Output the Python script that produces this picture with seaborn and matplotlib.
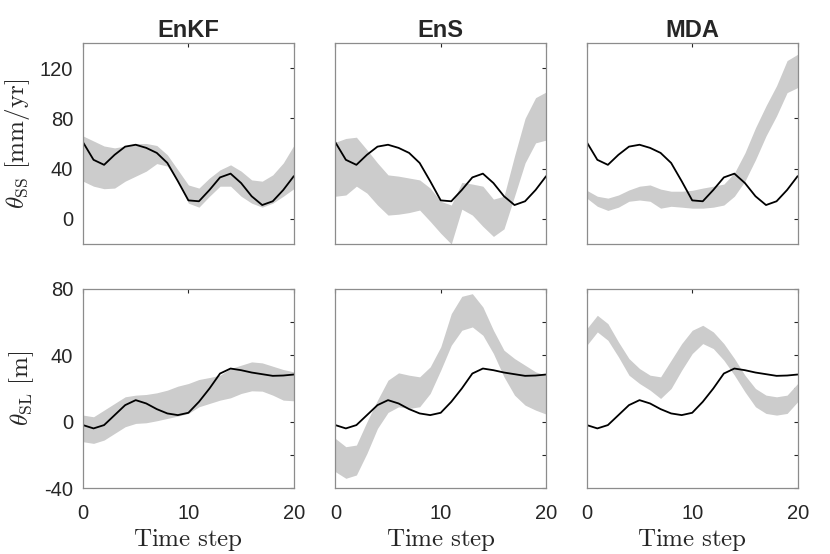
import matplotlib
matplotlib.use("Agg")
import matplotlib.pyplot as plt
import numpy as np
import pandas as pd
import seaborn as sns

time_steps = list(range(21))
methods = ["EnKF", "EnS", "MDA"]

# reference (true) parameter trajectories
truth_ss = [61, 47, 43, 51, 57.5, 59, 56.5, 52.5, 44.5, 30, 14.7, 14, 23, 33, 36,
            28.5, 18, 11, 14, 23, 34]
truth_sl = [-2, -4, -2, 4, 10, 13, 11, 7.6, 5, 4, 5.4, 12, 20, 29, 32, 31, 29.6,
            28.6, 27.6, 27.8, 28.4]

# ensemble bands, theta_SS
enkf_ss_hi = [66, 62, 58, 56.5, 58, 60, 60, 58.4, 51, 39, 27, 24.5, 32.5, 39, 43,
              38, 31, 30, 35, 44.5, 58.4]
enkf_ss_lo = [30, 26, 24, 24.5, 30, 34, 38, 44, 42, 30, 12.5, 9.3, 18, 26, 26, 18,
              12.5, 9.3, 12.5, 18, 24]
ens_ss_hi = [61, 64, 65, 55, 44.5, 35, 34, 32.5, 31, 24.5, 14, 11, 29, 27.7, 26,
             15.7, 18, 50, 80, 96.5, 101]
ens_ss_lo = [18, 19, 26, 20.5, 11, 3, 3.7, 5, 7, -2, -11.5, -20, 7.7, 3, -6, -14,
             -8, 18, 44.5, 60.5, 62.7]
mda_ss_hi = [22.7, 18, 16.5, 19, 23, 26, 27, 23.7, 22, 22, 22.7, 24.5, 26, 27.7,
             36.5, 52.5, 72.5, 90, 106, 126, 131]
mda_ss_lo = [16.5, 10, 6.7, 9.3, 14, 15, 14, 8.5, 10, 9.3, 8.5, 8.5, 9.3, 11, 18,
             30, 47, 66, 82, 100.5, 104.5]

# ensemble bands, theta_SL
enkf_sl_hi = [4, 3, 7, 11, 15, 16, 16.4, 17.4, 19, 21.4, 23, 25.4, 26.6, 28, 32,
              34, 36, 35.4, 33.4, 31.4, 30]
enkf_sl_lo = [-12, -13, -11, -7, -3, -1, -0.6, 0.6, 2, 3.4, 5, 9, 11, 13, 14.4, 17,
              18.6, 18.4, 16, 13, 12.6]
ens_sl_hi = [-10, -15, -14, 0, 13, 25, 29.4, 28, 27, 33, 45, 65, 75.4, 77, 69, 55,
             43, 38, 34, 30, 28]
ens_sl_lo = [-30, -34, -32, -19, -4, 5.6, 9, 8, 9, 17, 31, 46, 55, 57, 52, 41, 27,
             16, 10, 7, 4.6]
mda_sl_hi = [56, 64, 59, 48, 38, 32, 28, 27, 37, 47, 55, 58, 54, 47, 38, 28, 20, 16,
             15, 16, 23]
mda_sl_lo = [46, 54, 49, 39, 28, 23, 19, 14, 20, 31, 41, 47, 44, 37, 28, 18, 9, 5, 4,
             5, 12]

bands = {
    ("SS", "EnKF"): (enkf_ss_lo, enkf_ss_hi),
    ("SS", "EnS"): (ens_ss_lo, ens_ss_hi),
    ("SS", "MDA"): (mda_ss_lo, mda_ss_hi),
    ("SL", "EnKF"): (enkf_sl_lo, enkf_sl_hi),
    ("SL", "EnS"): (ens_sl_lo, ens_sl_hi),
    ("SL", "MDA"): (mda_sl_lo, mda_sl_hi),
}
truths = {"SS": truth_ss, "SL": truth_sl}

sns.set_style("white")
plt.rcParams["font.family"] = ["Liberation Sans", "DejaVu Sans"]
plt.rcParams["mathtext.fontset"] = "cm"

fig = plt.figure(figsize=(8.3, 5.54), dpi=100)
lefts = [0.100, 0.404, 0.707]
rows = {"SS": (0.5596, 0.3628), "SL": (0.1186, 0.3603)}
ylims = {"SS": (-20, 140), "SL": (-40, 80)}
ylabels = {"SS": r"$\theta_{\mathrm{SS}}\ [\mathrm{mm/yr}]$",
           "SL": r"$\theta_{\mathrm{SL}}\ [\mathrm{m}]$"}
spine_col = "#8c8c8c"

for param in ["SS", "SL"]:
    bottom, height = rows[param]
    for j, method in enumerate(methods):
        ax = fig.add_axes([lefts[j], bottom, 0.254, height])
        lo, hi = bands[(param, method)]
        ax.fill_between(time_steps, lo, hi, color="#cccccc", linewidth=0)
        frame = pd.DataFrame({"t": time_steps, "value": truths[param]})
        sns.lineplot(data=frame, x="t", y="value", ax=ax, color="black",
                     linewidth=1.3)
        ax.set_xlim(0, 20)
        ax.set_ylim(*ylims[param])
        ax.set_xticks([0, 10, 20])
        if param == "SS":
            ax.set_yticks([0, 40, 80, 120])
            ax.set_yticklabels(["0", "40", "80", "120"])
        else:
            ax.set_yticks([-40, -20, 0, 20, 40, 60, 80])
            ax.set_yticklabels(["-40", "", "0", "", "40", "", "80"])
        ax.tick_params(direction="in", length=3, width=0.8, color="#262626",
                       top=True, right=True, labelsize=14.5, labelcolor="#262626")
        ax.tick_params(axis="y", pad=7)
        ax.tick_params(axis="x", pad=11)
        for s in ax.spines.values():
            s.set_color(spine_col)
            s.set_linewidth(0.9)
        ax.set_xlabel("")
        ax.set_ylabel("")
        if j == 0:
            ax.set_ylabel(ylabels[param], fontsize=18, labelpad=6)
        else:
            ax.set_yticklabels([])
        if param == "SS":
            ax.set_xticklabels([])
            ax.set_title(method, fontsize=17, fontweight="bold", pad=4)
        else:
            ax.set_xlabel(r"$\mathrm{Time\ step}$", fontsize=18, labelpad=3)

fig.savefig("out.png", dpi=100)
